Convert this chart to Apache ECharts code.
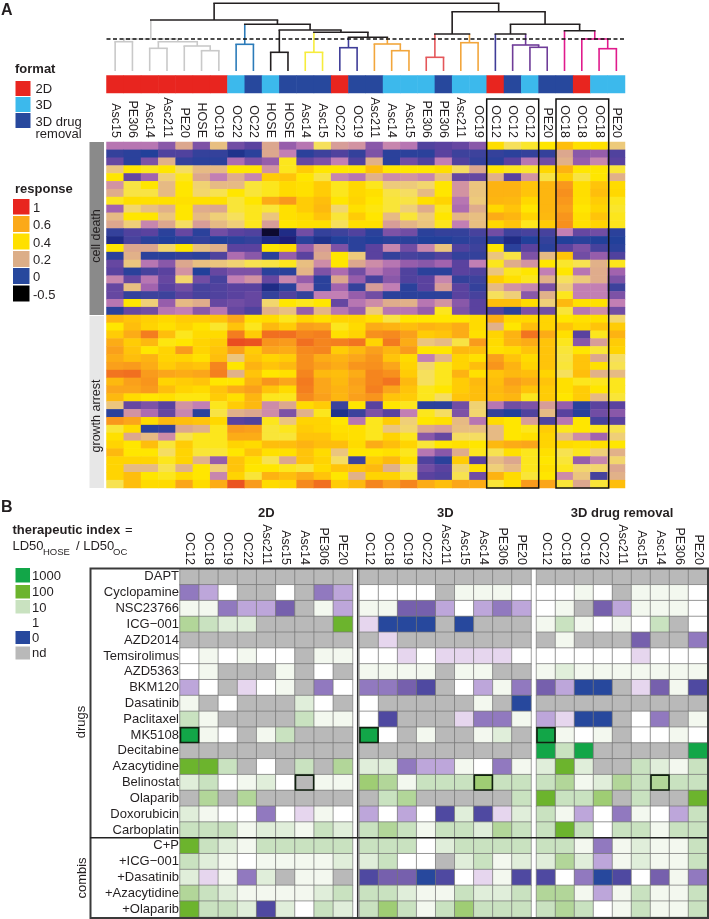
<!DOCTYPE html>
<html>
<head>
<meta charset="utf-8">
<title>response heatmap</title>
<script src="https://cdn.jsdelivr.net/npm/echarts@6/dist/echarts.min.js"></script>
<style>
html, body { margin: 0; padding: 0; background: #fff; }
#main { width: 709px; height: 919px; }
</style>
</head>
<body>
<div id="main"></div>
<script>
// panel A: columns of the clustered heatmap
var sampleLabels = ['Asc15','PE306','Asc14','Asc211','PE20','HOSE','OC19','OC22','OC22','HOSE','HOSE','Asc14','Asc15','OC22','OC19','Asc211','Asc14','Asc15','PE306','PE306','Asc211','OC19','OC12','OC12','OC12','PE20','OC18','OC18','OC18','PE20'];
// 0 = 2D, 1 = 3D, 2 = 3D drug removal
var sampleFormat = [0,0,0,0,0,0,0,1,2,1,2,2,2,0,2,2,1,1,1,2,1,1,0,2,1,2,2,0,1,1];

// response x 100, one row per drug
var cellDeath = [
  [14,14,14,10,20,9,25,8,6,20,11,14,33,19,18,10,16,14,5,6,7,10,43,33,37,40,52,42,42,27],
  [2,1,0,5,5,2,2,-2,1,20,15,1,3,5,2,9,1,1,1,6,3,3,2,1,2,2,20,10,11,5],
  [7,1,9,22,2,1,1,13,9,11,38,7,9,15,5,22,1,8,5,15,5,2,1,6,14,8,22,11,16,6],
  [26,40,38,40,32,24,24,40,40,18,38,48,40,40,40,52,40,40,40,43,32,20,40,38,37,45,56,40,40,36],
  [40,7,12,28,38,20,15,21,16,48,50,40,35,16,14,22,17,18,16,25,7,7,22,6,18,35,47,35,40,22],
  [18,35,40,24,40,29,24,24,36,38,44,42,48,38,45,38,27,27,30,40,18,26,56,56,50,55,65,43,50,44],
  [21,35,35,24,40,30,34,40,36,38,44,42,48,38,45,42,35,32,24,40,18,26,56,56,50,55,68,43,52,45],
  [38,43,42,42,42,42,42,36,40,58,65,48,52,40,46,40,36,35,42,46,14,27,55,54,45,55,65,42,48,38],
  [12,30,25,22,40,21,20,36,38,36,42,48,54,30,42,39,36,28,21,38,13,21,45,50,40,55,62,40,46,37],
  [24,40,40,26,40,24,28,33,38,26,42,44,50,36,48,40,24,36,27,40,23,25,58,55,46,54,66,42,50,38],
  [20,28,16,20,32,19,24,28,38,19,40,42,42,33,42,42,19,23,26,38,15,25,45,50,38,48,68,42,46,38],
  [2,5,6,1,7,1,8,6,5,-30,-3,8,2,3,5,1,9,8,1,2,2,4,8,3,4,4,15,7,8,1],
  [-3,4,1,0,1,2,0,1,2,-3,-5,1,-2,0,1,0,1,1,0,0,1,2,1,-3,0,2,0,1,0,0],
  [40,20,20,30,40,25,22,6,6,40,44,11,19,9,1,6,16,8,16,26,5,3,40,1,6,1,6,9,4,1],
  [1,22,1,1,2,1,5,13,10,1,11,6,20,40,27,6,2,4,3,5,2,2,26,35,9,24,50,8,11,5],
  [7,26,14,10,20,25,26,29,34,35,38,25,17,40,20,17,14,11,10,12,6,15,38,21,18,40,37,34,22,38],
  [6,1,4,6,18,0,7,9,9,1,1,23,9,13,8,14,11,5,1,1,6,5,26,38,40,15,40,14,21,12],
  [16,7,14,7,30,8,4,15,18,7,16,11,1,20,11,4,10,5,6,16,2,3,48,42,38,22,33,27,21,9],
  [7,25,12,6,8,4,5,6,6,-3,1,16,1,12,2,19,15,1,6,19,6,2,24,18,16,9,27,15,15,3],
  [7,2,3,3,6,4,5,6,7,2,5,2,15,15,11,8,1,1,1,1,6,4,33,28,10,22,38,15,15,9],
  [14,40,28,11,24,21,7,8,7,30,40,38,40,7,14,17,21,22,14,18,10,6,52,52,44,28,54,42,42,15],
  [1,7,8,14,15,10,14,7,5,22,25,11,23,14,11,27,14,14,11,38,9,6,5,1,9,8,36,14,17,8]
];
var growthArrest = [
  [55,50,47,45,48,48,50,60,42,44,38,46,42,46,46,42,35,40,40,40,40,44,58,45,45,46,40,42,42,30],
  [40,52,46,42,46,41,37,50,38,54,48,62,60,38,44,58,56,52,56,54,58,44,22,40,52,46,50,45,50,48],
  [48,58,75,52,38,44,44,75,48,80,80,72,74,42,46,68,70,62,48,50,58,42,46,56,78,58,42,6,38,56],
  [58,48,54,39,40,46,48,90,88,66,64,80,72,74,78,46,76,58,26,24,35,64,44,55,58,50,38,10,19,48],
  [62,50,40,46,64,46,50,62,48,60,58,70,72,48,54,62,55,64,40,40,54,52,42,44,50,50,36,40,36,46],
  [58,52,56,46,46,42,52,26,50,46,48,68,58,56,60,66,50,44,15,23,46,42,62,50,44,50,35,50,20,32],
  [62,64,58,48,52,50,72,40,56,50,54,68,62,58,66,68,60,46,30,38,46,52,66,56,46,50,36,50,42,34],
  [78,80,64,60,58,60,74,22,50,40,42,72,54,52,58,72,68,48,33,38,56,42,50,54,52,46,33,52,22,24],
  [54,62,66,46,48,50,40,40,56,66,60,76,60,54,62,72,78,54,33,38,48,54,52,62,58,50,42,38,38,38],
  [60,60,64,52,46,44,50,58,62,50,44,74,60,56,60,74,60,50,38,40,48,52,54,58,50,48,42,48,40,38],
  [54,44,40,42,39,39,48,42,55,38,38,70,62,55,62,66,50,48,38,32,50,52,52,55,38,48,40,48,24,36],
  [26,7,9,6,18,15,38,48,54,17,20,44,48,3,40,6,40,38,1,1,8,29,14,8,9,19,11,1,6,6],
  [1,18,13,7,16,1,35,22,20,17,9,22,38,-2,3,9,6,15,38,32,9,30,2,0,5,24,6,1,8,10],
  [65,60,44,54,52,50,45,6,5,38,26,46,46,40,14,38,48,28,40,42,24,14,44,40,19,5,14,40,4,6],
  [36,44,1,2,20,22,38,64,62,36,38,48,46,42,42,38,26,30,20,19,25,25,24,40,38,48,38,40,38,34],
  [42,20,24,17,34,38,38,58,58,36,36,50,50,44,42,38,46,38,10,7,32,32,24,40,42,46,25,17,12,28],
  [46,40,52,36,48,38,38,46,44,52,52,56,52,52,44,58,52,46,36,40,42,40,54,58,60,46,44,42,42,40],
  [54,40,40,32,46,36,36,40,50,42,42,50,44,26,40,40,42,38,14,10,21,38,34,42,38,42,34,38,28,22],
  [46,46,46,38,46,22,11,50,42,34,20,50,46,32,3,48,54,42,5,1,48,6,24,20,38,40,36,11,16,30],
  [46,24,24,34,22,40,28,50,40,40,38,36,44,50,50,54,22,32,8,6,30,42,28,24,38,42,38,30,30,20],
  [46,52,40,38,44,40,16,46,36,56,52,58,50,40,22,46,46,36,6,5,34,8,56,44,36,40,17,26,4,22],
  [34,52,44,44,60,44,58,88,64,44,46,70,80,48,54,72,62,72,58,52,60,58,36,42,64,60,36,20,36,52]
];

// dendrogram merges, column units and height above the leaves:
// [left, right, leftHeight, rightHeight, topHeight, barColour, leftColour, rightColour]
var dendroLinks = [
  [0,1,0,0,29.3,'grey','grey','grey'],
  [5,6,0,0,20.3,'grey','grey','grey'],
  [4,5.5,0,20.3,25,'grey','grey','grey'],
  [2,3,0,0,22.7,'grey','grey','grey'],
  [2.5,4.75,22.7,25,29.3,'grey','grey','grey'],
  [0.5,3.625,29.3,29.3,32,'grey','grey','grey'],
  [7,8,0,0,26.7,'blue','blue','blue'],
  [9,10,0,0,18.7,'black','black','black'],
  [11,12,0,0,18.7,'yellow','yellow','yellow'],
  [13,14,0,0,23.3,'navy','navy','navy'],
  [16,17,0,0,20.3,'orange','orange','orange'],
  [15,16.5,0,20.3,27,'orange','orange','orange'],
  [13.5,15.75,23.3,27,33.7,'black','navy','orange'],
  [11.5,14.625,18.7,33.7,38.7,'black','yellow','black'],
  [9.5,13.0625,18.7,38.7,41,'black','black','black'],
  [7.5,11.28,26.7,41,46.7,'black','blue','black'],
  [2.0625,9.39,32,46.7,51,'black','grey','black'],
  [18,19,0,0,13.7,'red','red','red'],
  [20,21,0,0,28.3,'orange','orange','orange'],
  [18.5,20.5,13.7,28.3,37,'black','red','orange'],
  [24,25,0,0,23.7,'purple','purple','purple'],
  [23,24.5,0,23.7,26,'purple','purple','purple'],
  [22,23.75,0,26,37,'black','navy','purple'],
  [28,29,0,0,22.3,'magenta','magenta','magenta'],
  [27,28.5,0,22.3,32,'magenta','magenta','magenta'],
  [26,27.75,0,32,40.3,'black','magenta','magenta'],
  [22.875,26.875,37,40.3,46.7,'black','black','black'],
  [19.5,24.875,37,46.7,59.3,'black','black','black'],
  [5.727,22.19,51,59.3,67.7,'black','black','black']
];
var cutHeight = 32;
var dendroColours = {grey:'#c9c9c9',blue:'#2b7bb9',black:'#231f20',yellow:'#f6ec3c',navy:'#3f3d98',orange:'#f2a63c',red:'#e4575a',purple:'#6f3c98',magenta:'#e01b8c'};

// panel B
var lineLabels = ['OC12','OC18','OC19','OC22','Asc211','Asc15','Asc14','PE306','PE20'];
var drugLabels = ['DAPT','Cyclopamine','NSC23766','ICG\u2212001','AZD2014','Temsirolimus','AZD5363','BKM120','Dasatinib','Paclitaxel','MK5108','Decitabine','Azacytidine','Belinostat','Olaparib','Doxorubicin','Carboplatin','C+P','+ICG\u2212001','+Dasatinib','+Azacytidine','+Olaparib'];
var N = -9; // nd
// therapeutic index level: -6 (0) .. 0 (1) .. 3 (10) .. 6 (100) .. 7 (1000)
var index2D = [
  [N,N,N,N,N,N,N,N,N],
  [-3,-2,0,N,N,0,N,-3,-2],
  [1,1,-3,-2,-2,-4,N,1,-2],
  [4,3,2,2,N,N,N,N,6],
  [N,N,N,N,N,N,N,N,N],
  [0,1,0,1,0,0,N,1,1],
  [0,1,N,N,N,1,N,0,N],
  [-2,0,N,-1,0,1,N,-3,0],
  [1,N,0,N,N,N,2,0,N],
  [3,1,N,N,N,N,3,1,1],
  [7,1,0,N,1,3,N,N,N],
  [N,N,N,N,N,N,N,N,N],
  [6,6,3,N,0,N,3,N,4],
  [2,3,0,1,2,0,N,1,1],
  [N,4,N,4,N,N,N,N,N],
  [2,1,0,0,-3,0,-1,1,0],
  [3,3,3,1,2,2,1,3,2],
  [6,3,2,1,3,3,3,3,3],
  [3,2,1,0,1,1,1,1,2],
  [2,-1,1,-3,2,N,1,1,N],
  [4,3,2,1,1,1,1,2,3],
  [6,3,3,2,-5,2,0,3,2]
];
var index3D = [
  [N,N,N,N,N,N,N,N,N],
  [0,0,0,0,N,1,1,1,0],
  [1,1,-4,-4,-2,0,-2,-3,-2],
  [-1,-6,-6,-6,N,-6,N,N,N],
  [N,-1,N,N,N,N,N,N,N],
  [0,0,-1,0,-1,-1,-1,-1,0],
  [1,1,1,1,N,1,1,N,N],
  [-3,-3,-4,-5,N,0,-2,1,-3],
  [0,N,N,N,N,N,1,N,-6],
  [0,-5,N,N,N,-1,-3,-3,1],
  [7,0,N,1,N,N,1,2,N],
  [N,N,N,N,N,N,N,N,N],
  [2,2,-3,-2,-2,1,0,-3,1],
  [5,4,1,3,3,3,5,3,3],
  [N,3,4,N,N,N,N,N,3],
  [-2,0,-2,0,-5,2,-5,-1,2],
  [3,4,3,1,3,3,2,4,3],
  [3,3,3,0,2,3,3,3,3],
  [2,3,0,0,N,2,3,1,2],
  [-5,-4,-4,-6,-5,0,-1,1,-5],
  [3,3,2,1,1,3,2,2,3],
  [3,5,3,1,3,5,3,3,3]
];
var indexRemoval = [
  [N,N,N,N,N,N,N,N,N],
  [0,0,1,0,N,1,1,1,0],
  [0,1,N,-4,-2,1,1,1,0],
  [1,3,1,0,1,0,3,N,0],
  [N,1,N,N,N,-4,N,N,-3],
  [0,0,0,0,0,-1,0,0,0],
  [1,2,1,1,1,1,1,1,1],
  [-4,-2,-6,-6,N,-1,-4,1,-5],
  [N,N,N,N,N,N,N,N,N],
  [-2,-1,-6,-6,N,0,-3,N,1],
  [7,1,0,1,N,0,0,1,0],
  [7,3,7,N,N,N,N,N,7],
  [2,6,2,N,N,3,2,1,3],
  [3,4,1,2,4,3,4,3,3],
  [6,3,3,5,N,3,N,N,6],
  [3,1,-2,0,-3,1,0,-2,3],
  [3,6,3,0,3,3,1,3,3],
  [3,3,1,-3,1,2,1,1,3],
  [2,4,2,-2,1,2,1,1,3],
  [-5,0,-3,-6,-5,0,-4,1,-3],
  [4,4,1,-2,1,3,1,1,3],
  [3,4,3,0,1,3,1,1,3]
];
var boxedCells = [[0,10],[6,13]];

var responseStops = [[-50,'#000000'],[-30,'#0d0a30'],[-5,'#1e1f78'],[0,'#22409a'],[3,'#3d429c'],[6,'#5a429f'],[9,'#7d52a6'],[12,'#a263ae'],[15,'#c27fb4'],[18,'#d293a2'],[20,'#dca78e'],[24,'#e6ba84'],[28,'#efcf78'],[33,'#f6e05c'],[37,'#fae62c'],[40,'#ffe600'],[45,'#ffd800'],[50,'#ffc40a'],[55,'#fdb610'],[60,'#fba61a'],[70,'#f68a1e'],[80,'#f16f20'],[90,'#ea4c20'],[100,'#e5261f']];
var indexColours = {'-9':'#b9b9b9','-6':'#27489d','-5':'#4f49a1','-4':'#7660ad','-3':'#9179bf','-2':'#bda6da','-1':'#e6d6ee','0':'#ffffff','1':'#f3f8ef','2':'#e0eeda','3':'#c9e2c0','4':'#b2d699','5':'#9fcd74','6':'#6cb42d','7':'#12a648'};
var formatColours = ['#e8251f','#3cb9ec','#27489d'];

function evenColours(stops) {
  // visualMap wants evenly spaced colours
  var out = [];
  var min = stops[0][0], max = stops[stops.length - 1][0];
  for (var v = min; v <= max; v++) {
    var i = 0;
    while (stops[i + 1][0] < v) i++;
    var t = (v - stops[i][0]) / (stops[i + 1][0] - stops[i][0]);
    var a = echarts.color.parse(stops[i][1]), b = echarts.color.parse(stops[i + 1][1]);
    out.push('rgb(' + Math.round(a[0] + (b[0] - a[0]) * t) + ',' + Math.round(a[1] + (b[1] - a[1]) * t) + ',' + Math.round(a[2] + (b[2] - a[2]) * t) + ')');
  }
  return out;
}

function toCells(rows) {
  var cells = [];
  rows.forEach(function (row, y) {
    row.forEach(function (v, x) { cells.push([x, y, v]); });
  });
  return cells;
}

function indices(n) {
  var out = [];
  for (var i = 0; i < n; i++) out.push(i);
  return out;
}

var FONT = '"Liberation Sans", Arial, sans-serif';
var INK = '#231f20';

function label(text, x, y, size, bold, rot, align) {
  return {
    type: 'text', x: x, y: y, rotation: rot || 0, z: 20,
    style: {
      text: text, x: 0, y: 0, fill: INK, align: align || 'left', verticalAlign: 'middle',
      font: (bold ? 'bold ' : '') + size + 'px ' + FONT
    }
  };
}
function swatch(x, y, w, h, colour) {
  return { type: 'rect', z: 20, shape: { x: x, y: y, width: w, height: h }, style: { fill: colour } };
}
function outline(x, y, w, h, colour, lw) {
  return { type: 'rect', z: 30, shape: { x: x, y: y, width: w, height: h }, style: { fill: 'none', stroke: colour, lineWidth: lw } };
}

var graphics = [
  label('A', 1, 11, 16, true),
  label('B', 1, 508, 16, true),
  label('format', 15, 69, 13, true),
  swatch(15.5, 81, 15, 15, formatColours[0]),
  swatch(15.5, 97, 15, 15, formatColours[1]),
  swatch(15.5, 113, 15, 15, formatColours[2]),
  label('2D', 35.5, 89.5, 13),
  label('3D', 35.5, 105, 13),
  label('3D drug', 35.5, 122.5, 13),
  label('removal', 35.5, 134, 13),
  label('response', 15, 189, 13, true),
  swatch(13, 199, 16.5, 15.5, '#e8251f'),
  swatch(13, 216, 16.5, 16, '#fba919'),
  swatch(13, 233.5, 16.5, 16, '#ffe000'),
  swatch(13, 251, 16.5, 16, '#dcae88'),
  swatch(13, 268, 16.5, 16, '#27489d'),
  swatch(13, 285.5, 16.5, 16, '#000000'),
  label('1', 33, 208, 13),
  label('0.6', 33, 225.5, 13),
  label('0.4', 33, 243, 13),
  label('0.2', 33, 260.5, 13),
  label('0', 33, 277.5, 13),
  label('-0.5', 33, 295, 13),
  swatch(89.5, 142, 14.5, 173, '#8a8a8a'),
  swatch(89.5, 316, 14.5, 172, '#e7e7e7'),
  label('cell death', 97, 236, 12.5, false, Math.PI / 2, 'center'),
  label('growth arrest', 97, 416, 12.5, false, Math.PI / 2, 'center'),
  outline(486.7, 99, 52, 389, '#111', 1.5),
  outline(556, 99, 52.7, 389, '#111', 1.5),
  label('therapeutic index', 12.5, 530, 13, true),
  label('=', 125, 530, 13),
  label('LD50', 12.5, 546, 13),
  label('HOSE', 43, 552.5, 9.5),
  label('/ LD50', 76, 546, 13),
  label('OC', 113, 552.5, 9.5),
  swatch(15.5, 568, 14.5, 14.5, indexColours[7]),
  swatch(15.5, 585, 14.5, 13.5, indexColours[6]),
  swatch(15.5, 600, 14.5, 13.5, indexColours[3]),
  swatch(15.5, 631, 14.5, 13, indexColours[-6]),
  swatch(15.5, 646.5, 14.5, 13, indexColours[-9]),
  label('1000', 32, 576.5, 13),
  label('100', 32, 592.5, 13),
  label('10', 32, 608, 13),
  label('1', 32, 623.5, 13),
  label('0', 32, 638, 13),
  label('nd', 32, 653.5, 13),
  label('drugs', 81, 722, 13, false, Math.PI / 2, 'center'),
  label('combis', 82, 878, 13, false, Math.PI / 2, 'center'),
  outline(90.5, 568.5, 617.5, 349.5, '#3a3a3a', 2),
  { type: 'line', z: 30, shape: { x1: 90, y1: 837.7, x2: 708, y2: 837.7 }, style: { stroke: '#222', lineWidth: 1.5 } },
  { type: 'line', z: 30, shape: { x1: 357.7, y1: 568, x2: 357.7, y2: 918 }, style: { stroke: '#333', lineWidth: 1.5 } }
];

function renderLink(params, api) {
  var link = dendroLinks[params.dataIndex];
  var lw = 1.6;
  var tl = api.coord([link[0], link[4]]), tr = api.coord([link[1], link[4]]);
  var bl = api.coord([link[0], link[2]]), br = api.coord([link[1], link[3]]);
  return {
    type: 'group',
    children: [
      { type: 'line', shape: { x1: bl[0], y1: bl[1], x2: tl[0], y2: tl[1] }, style: { stroke: dendroColours[link[6]], lineWidth: lw, fill: null } },
      { type: 'line', shape: { x1: br[0], y1: br[1], x2: tr[0], y2: tr[1] }, style: { stroke: dendroColours[link[7]], lineWidth: lw, fill: null } },
      { type: 'line', shape: { x1: tl[0] - lw / 2, y1: tl[1], x2: tr[0] + lw / 2, y2: tr[1] }, style: { stroke: dendroColours[link[5]], lineWidth: lw, fill: null } }
    ]
  };
}

function renderBox(params, api) {
  var c = api.coord([api.value(0), api.value(1)]);
  var s = api.size([1, 1]);
  return {
    type: 'rect',
    shape: { x: c[0] - s[0] / 2 + 0.5, y: c[1] - s[1] / 2 + 0.5, width: s[0] - 1, height: s[1] - 1 },
    style: { fill: 'none', stroke: '#10200f', lineWidth: 1.6 }
  };
}

var panels = [
  { title: '2D', rows: index2D, left: 180, width: 172.5 },
  { title: '3D', rows: index3D, left: 359.5, width: 171.5 },
  { title: '3D drug removal', rows: indexRemoval, left: 536.5, width: 171 }
];

var grids = [
  { left: 106.5, top: 3, width: 518.5, height: 68 },
  { left: 106.5, top: 75.5, width: 518.5, height: 17.5 },
  { left: 106.5, top: 142, width: 518.5, height: 346 }
];
var xAxes = [
  { gridIndex: 0, type: 'value', min: -0.5, max: 29.5, show: false },
  { gridIndex: 1, type: 'category', data: sampleLabels, show: false },
  {
    gridIndex: 2, type: 'category', position: 'top', data: sampleLabels,
    axisLine: { show: false }, axisTick: { show: false },
    axisLabel: { interval: 0, rotate: 90, margin: 4, fontSize: 12.5, color: INK, fontFamily: FONT }
  }
];
var yAxes = [
  { gridIndex: 0, type: 'value', min: 0, max: 68, show: false },
  { gridIndex: 1, type: 'category', data: ['format'], show: false },
  { gridIndex: 2, type: 'category', inverse: true, data: indices(cellDeath.length + growthArrest.length), show: false }
];
var series = [
  {
    type: 'custom', coordinateSystem: 'cartesian2d', xAxisIndex: 0, yAxisIndex: 0, renderItem: renderLink, silent: true,
    encode: { x: [0, 1], y: [2, 3, 4] }, data: dendroLinks.map(function (l) { return l.slice(0, 5); }), clip: false, z: 3
  },
  {
    type: 'line', xAxisIndex: 0, yAxisIndex: 0, symbol: 'none', silent: true, z: 4,
    lineStyle: { color: '#111', width: 1.4, type: [4, 2.5] },
    data: [[-0.5, cutHeight], [29.5, cutHeight]]
  },
  {
    type: 'heatmap', xAxisIndex: 1, yAxisIndex: 1, silent: true, progressive: 0,
    data: sampleFormat.map(function (f, i) { return [i, 0, f]; })
  },
  {
    type: 'heatmap', xAxisIndex: 2, yAxisIndex: 2, silent: true, progressive: 0,
    data: toCells(cellDeath.concat(growthArrest))
  }
];

panels.forEach(function (p, i) {
  grids.push({ left: p.left, top: 569, width: p.width, height: 348 });
  xAxes.push({
    gridIndex: 3 + i, type: 'category', position: 'top', data: lineLabels,
    name: p.title, nameLocation: 'middle', nameGap: 47,
    nameTextStyle: { fontWeight: 'bold', fontSize: 13, color: INK, fontFamily: FONT },
    axisLine: { show: false }, axisTick: { show: false },
    axisLabel: { interval: 0, rotate: 90, margin: 4, fontSize: 12.5, color: INK, fontFamily: FONT }
  });
  yAxes.push({
    gridIndex: 3 + i, type: 'category', inverse: true, data: drugLabels,
    show: i === 0,
    axisLine: { show: false }, axisTick: { show: false },
    axisLabel: { interval: 0, margin: 1, fontSize: 13, color: INK, fontFamily: FONT, padding: [3, 0, 0, 0] }
  });
  series.push({
    type: 'heatmap', xAxisIndex: 3 + i, yAxisIndex: 3 + i, silent: true, progressive: 0,
    itemStyle: { borderColor: '#767676', borderWidth: 0.7 },
    data: toCells(p.rows)
  });
});
panels.forEach(function (p, i) {
  series.push({
    type: 'custom', coordinateSystem: 'cartesian2d', xAxisIndex: 3 + i, yAxisIndex: 3 + i, silent: true, z: 5,
    renderItem: renderBox, encode: { x: 0, y: 1 }, data: boxedCells
  });
});

var chart = echarts.init(document.getElementById('main'), null, { renderer: 'canvas' });
chart.setOption({
  animation: false,
  backgroundColor: '#fff',
  textStyle: { fontFamily: FONT },
  tooltip: { show: false },
  grid: grids,
  xAxis: xAxes,
  yAxis: yAxes,
  visualMap: [
    { type: 'piecewise', show: false, seriesIndex: 2, dimension: 2,
      pieces: formatColours.map(function (c, i) { return { value: i, color: c }; }) },
    { type: 'continuous', show: false, seriesIndex: 3, dimension: 2, min: -50, max: 100,
      inRange: { color: evenColours(responseStops) } },
    { type: 'piecewise', show: false, seriesIndex: [4, 5, 6], dimension: 2,
      pieces: Object.keys(indexColours).map(function (k) { return { value: +k, color: indexColours[k] }; }) }
  ],
  series: series,
  graphic: graphics
});
</script>
</body>
</html>
